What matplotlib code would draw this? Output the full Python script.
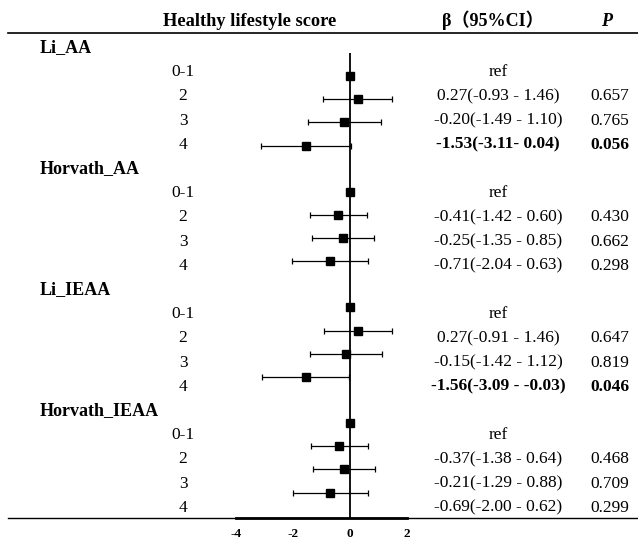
import matplotlib
matplotlib.use('Agg')
import matplotlib.pyplot as plt

plt.rcParams['font.family'] = ['Liberation Serif', 'Noto Sans CJK SC', 'DejaVu Sans']
plt.rcParams['axes.unicode_minus'] = False

groups = ['Li_AA', 'Horvath_AA', 'Li_IEAA', 'Horvath_IEAA']
levels = ['0-1', '2', '3', '4']
beta = [[0, 0.27, -0.20, -1.53],
        [0, -0.41, -0.25, -0.71],
        [0, 0.27, -0.15, -1.56],
        [0, -0.37, -0.21, -0.69]]
lower = [[0, -0.93, -1.49, -3.11],
         [0, -1.42, -1.35, -2.04],
         [0, -0.91, -1.42, -3.09],
         [0, -1.38, -1.29, -2.00]]
upper = [[0, 1.46, 1.10, 0.04],
         [0, 0.60, 0.85, 0.63],
         [0, 1.46, 1.12, -0.03],
         [0, 0.64, 0.88, 0.62]]
ci_text = [['ref', '0.27(-0.93 - 1.46)', '-0.20(-1.49 - 1.10)', '-1.53(-3.11- 0.04)'],
           ['ref', '-0.41(-1.42 - 0.60)', '-0.25(-1.35 - 0.85)', '-0.71(-2.04 - 0.63)'],
           ['ref', '0.27(-0.91 - 1.46)', '-0.15(-1.42 - 1.12)', '-1.56(-3.09 - -0.03)'],
           ['ref', '-0.37(-1.38 - 0.64)', '-0.21(-1.29 - 0.88)', '-0.69(-2.00 - 0.62)']]
p_text = [['', '0.657', '0.765', '0.056'],
          ['', '0.430', '0.662', '0.298'],
          ['', '0.647', '0.819', '0.046'],
          ['', '0.468', '0.709', '0.299']]
bold_rows = [(0, 3), (2, 3)]

fig = plt.figure(figsize=(6.38, 5.42), dpi=100)

# table part in pixel coordinates
ax_t = fig.add_axes([0, 0, 1, 1])
ax_t.set_xlim(0, 638)
ax_t.set_ylim(542, 0)
ax_t.axis('off')

ax_t.plot([8, 638], [33, 33], color='black', lw=1.2)
ax_t.plot([8, 638], [518, 518], color='black', lw=1.0)
ax_t.text(250, 21, 'Healthy lifestyle score', ha='center', va='center', fontsize=13.2, fontweight='bold')
ax_t.text(493, 20, 'β（95%CI）', ha='center', va='center', fontsize=13, fontweight='bold')
ax_t.text(607, 21, 'P', ha='center', va='center', fontsize=13, fontweight='bold', style='italic')

row = 0
for g in range(len(groups)):
    y = 48 + 24.2 * row
    ax_t.text(40, y, groups[g], ha='left', va='center', fontsize=13, fontweight='bold')
    row += 1
    for k in range(len(levels)):
        y = 48 + 24.2 * row
        w = 'bold' if (g, k) in bold_rows else 'normal'
        ax_t.text(183, y, levels[k], ha='center', va='center', fontsize=12.5)
        ax_t.text(498, y, ci_text[g][k], ha='center', va='center', fontsize=12.5, fontweight=w)
        ax_t.text(610, y, p_text[g][k], ha='center', va='center', fontsize=12.5, fontweight=w)
        row += 1

# forest plot
ax = fig.add_axes([236 / 638, (542 - 518) / 542, (407 - 236) / 638, (518 - 53) / 542])
ax.patch.set_alpha(0)
ax.set_xlim(-4, 2)
ax.set_ylim(20.1, 0)
ax.axvline(0, color='black', lw=1.3)

row = 0
for g in range(len(groups)):
    row += 1
    for k in range(len(levels)):
        b = beta[g][k]
        ax.errorbar(b, row, xerr=[[b - lower[g][k]], [upper[g][k] - b]], fmt='s', color='black',
                    markersize=6, elinewidth=0.9, capsize=2.5, capthick=0.9)
        row += 1

for s in ['left', 'right', 'top']:
    ax.spines[s].set_visible(False)
ax.spines['bottom'].set_linewidth(2)
ax.set_yticks([])
ax.set_xticks([-4, -2, 0, 2])
ax.tick_params(axis='x', length=0, pad=7, labelsize=9.5)
for lab in ax.get_xticklabels():
    lab.set_fontweight('bold')

plt.savefig('out.png', dpi=100)
